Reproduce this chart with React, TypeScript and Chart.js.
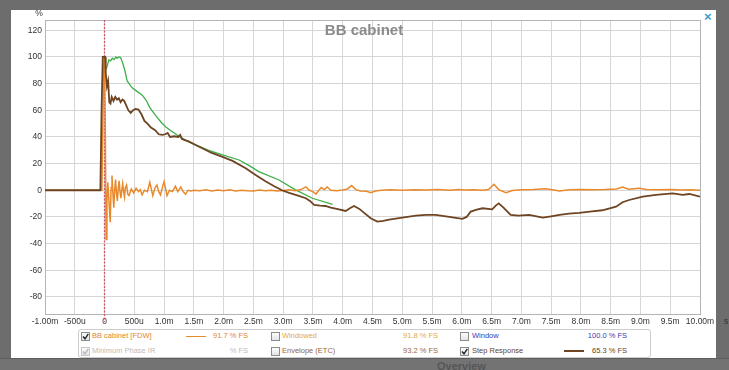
import React, { useEffect, useRef } from "react";
import { Chart, registerables } from "chart.js";

Chart.register(...registerables);

// ---------- DATA ----------
const chartTitle = "BB cabinet";

// FDW impulse response (orange), time in ms, value in %
const fdwT = [
  -1.0, -0.06, -0.045, -0.03, -0.015, 0.0, 0.012, 0.025, 0.04, 0.055, 0.07, 0.095, 0.11, 0.125, 0.14, 0.155,
  0.17, 0.185, 0.2, 0.215, 0.23, 0.245, 0.26, 0.275, 0.29, 0.305, 0.32, 0.335, 0.35, 0.37, 0.39, 0.41, 0.45,
  0.49, 0.53, 0.57, 0.6, 0.63, 0.67, 0.72, 0.76, 0.81, 0.85, 0.88, 0.91, 0.94, 0.97, 1.0, 1.05, 1.09, 1.14,
  1.19, 1.23, 1.28, 1.32, 1.36, 1.4, 1.45, 1.5, 1.6, 1.7, 1.8, 1.9, 2.0, 2.1, 2.2, 2.3, 2.4, 2.5, 2.6, 2.7,
  2.8, 2.9, 3.0, 3.1, 3.2, 3.3, 3.38, 3.44, 3.5, 3.55, 3.6, 3.64, 3.69, 3.74, 3.8, 3.9, 4.0, 4.08, 4.15,
  4.22, 4.3, 4.4, 4.47, 4.55, 4.65, 4.8, 5.0, 5.2, 5.4, 5.6, 5.8, 5.95, 6.05, 6.2, 6.35, 6.45, 6.54, 6.62,
  6.74, 6.85, 7.0, 7.2, 7.41, 7.52, 7.64, 7.8, 8.0, 8.2, 8.4, 8.6, 8.7, 8.8, 8.98, 9.1, 9.3, 9.5, 9.7,
  9.85, 10.0,
];
const fdwV = [
  0, 0, 0, 45, 92, 101, 50, -37, -8, 6, -5, -24, 2, 11, -2, -13,
  0, 8, -2, -8, 1, 7, -1, -6, 0, 5, -1, -5, 2, 4, -3, -4, 1,
  -2, 1.5, -1, 0.5, -3.5, 0, -1, 6, -4, 2, 4, -1, -3.5, 2, 6.5, -4, 0, -1,
  3, -1, 2.5, -1, -3, 0, -0.5, 0, -0.3, 0.4, -0.5, 0.2, -0.4, 0.3, -0.6, 0, -0.3, -0.5, 0.2, -0.4,
  0, -0.6, -0.2, 0.3, -0.4, 0.5, 2.5, 0, -1, -3, 0, 2, 0.5, 2.5, 0, -0.3, 0.2, 1, 3.5,
  0.5, -0.5, -0.8, -1.8, -0.5, 0, 0.3, 0.1, 0.4, 0.2, 0.5, 0, 0.6, 0.2, 0.4, 0.1, 0.5, 4.5, 0.5,
  -1.8, -0.2, 0.3, 0.5, 1.2, 0.4, -0.5, 0.3, 0.5, 0.4, 0.6, 1.0, 2.5, 0.8, 1.5, 0.5, 0.3, 0.5, 0.2,
  0.4, 0,
];

// Step response (dark brown)
const stepT = [
  -1.0, -0.07, -0.05, -0.03, 0.01, 0.02, 0.04, 0.06, 0.08, 0.1, 0.12, 0.15, 0.18, 0.21, 0.24, 0.27, 0.3,
  0.33, 0.36, 0.4, 0.44, 0.48, 0.52, 0.57, 0.62, 0.67, 0.72, 0.78, 0.85, 0.91, 0.97, 1.02, 1.06, 1.1, 1.17,
  1.24, 1.27, 1.3, 1.42, 1.53, 1.64, 1.8, 1.98, 2.15, 2.37, 2.55, 2.71, 2.85, 2.98, 3.1, 3.25, 3.38, 3.45,
  3.52, 3.62, 3.71, 3.8, 3.9, 4.05, 4.12, 4.19, 4.28, 4.36, 4.47, 4.58, 4.68, 4.78, 5.0, 5.23, 5.4, 5.56,
  5.79, 6.01, 6.08, 6.15, 6.25, 6.35, 6.51, 6.57, 6.62, 6.7, 6.82, 6.95, 7.13, 7.36, 7.5, 7.64, 7.8, 7.97,
  8.15, 8.36, 8.59, 8.7, 8.81, 9.04, 9.26, 9.54, 9.71, 9.82, 10.0,
];
const stepV = [
  0, 0, 60, 100, 100, 88, 78, 82, 66, 65, 70, 67, 70, 68, 69, 66, 68,
  67, 64, 60, 58, 60, 61, 60.5, 57, 52, 50, 47, 45, 42, 41.5, 42, 43, 40, 40.5,
  40, 41.5, 38.5, 36.5, 34, 31.5, 28, 25, 22, 16.5, 11, 6.5, 3, 0, -2, -4, -6, -8,
  -11, -11.5, -11.8, -13, -14, -15.5, -13.5, -11.8, -14, -17, -21, -23.5, -23, -22, -20.5, -19, -18.5, -18.5,
  -20, -21.5, -20, -16, -14.5, -13.5, -14.3, -11.5, -9.8, -13, -18.5, -19, -18.5, -20.5, -19.5, -18.5, -17.5, -17,
  -16, -15, -12.3, -9, -7.3, -4.8, -3.5, -2.3, -3.5, -2.8, -4.8,
];

// Minimum phase step (green)
const minT = [
  0.03, 0.05, 0.07, 0.1, 0.13, 0.16, 0.19, 0.21, 0.24, 0.27, 0.3, 0.34, 0.38, 0.46, 0.55, 0.63, 0.7, 0.76,
  0.86, 0.95, 1.03, 1.12, 1.25, 1.38, 1.53, 1.75, 1.98, 2.26, 2.43, 2.59, 2.93, 3.2, 3.49, 3.83,
];
const minV = [
  91, 94, 97.7, 97, 99, 98, 100, 99, 100, 99.5, 96, 90, 82, 77, 74, 71.5, 67.5, 62,
  56, 51, 47.5, 44.5, 40.5, 37, 34, 30, 26.5, 22.7, 18.5, 14, 7.7, 0.5, -6, -10.5,
];

const xTickValues = [-1, -0.5, 0, 0.5, 1, 1.5, 2, 2.5, 3, 3.5, 4, 4.5, 5, 5.5, 6, 6.5, 7, 7.5, 8, 8.5, 9, 9.5, 10];
const xTickLabels = [
  "-1.00m", "-500u", "0", "500u", "1.0m", "1.5m", "2.0m", "2.5m", "3.0m", "3.5m", "4.0m", "4.5m", "5.0m",
  "5.5m", "6.0m", "6.5m", "7.0m", "7.5m", "8.0m", "8.5m", "9.0m", "9.5m", "10.00m",
];
const xUnit = "s";
const yTickValues = [-80, -60, -40, -20, 0, 20, 40, 60, 80, 100, 120];
const yUnit = "%";

const legendNames = ["BB cabinet [FDW]", "Windowed", "Window", "Minimum Phase IR", "Envelope (ETC)", "Step Response"];
const legendValues = ["91.7 % FS", "91.8 % FS", "100.0 % FS", "% FS", "93.2 % FS", "65.3 % FS"];
const legendChecked = [true, false, false, true, false, true];
const legendDisabled = [false, false, false, true, false, false];
const legendLine = [true, false, false, false, false, true];

// ---------- STYLE ----------
const FONT = '"Liberation Sans", Arial, sans-serif';
const C_FDW = "#e8892c";
const C_STEP = "#6e4422";
const C_MIN = "#3daf4a";
const legendColors = ["#e0862c", "#e2aa3c", "#3a3ab4", "#bcbcbc", "#97683a", "#6a4626"];

const overlayPlugin = {
  id: "overlay",
  beforeDatasetsDraw(chart: any) {
    const { ctx, chartArea, scales } = chart;
    ctx.save();
    ctx.strokeStyle = "#b4b4b4";
    ctx.lineWidth = 1;
    ctx.strokeRect(chartArea.left + 0.5, chartArea.top + 0.5, chartArea.right - chartArea.left, chartArea.bottom - chartArea.top);
    const x0 = Math.round(scales.x.getPixelForValue(0)) - 0.5;
    ctx.strokeStyle = "#d2566a";
    ctx.lineWidth = 1.3;
    ctx.setLineDash([2, 1.5]);
    ctx.beginPath();
    ctx.moveTo(x0, chartArea.top);
    ctx.lineTo(x0, chartArea.bottom + 8);
    ctx.stroke();
    ctx.restore();
  },
  afterDraw(chart: any) {
    const { ctx, chartArea, scales } = chart;
    ctx.save();
    ctx.fillStyle = "#8a8a8a";
    ctx.font = `bold 15px ${FONT}`;
    ctx.textAlign = "center";
    ctx.textBaseline = "alphabetic";
    ctx.fillText(chartTitle, 364, 35);
    ctx.fillStyle = "#333";
    ctx.font = `8.5px ${FONT}`;
    ctx.textBaseline = "middle";
    ctx.fillText(yUnit, 39, 14);
    ctx.textAlign = "left";
    ctx.fillText(xUnit, scales.x.getPixelForValue(10) + 24, chartArea.bottom + 8);
    ctx.restore();
  },
};

function CheckBox({ left, top, checked, disabled }: { left: number; top: number; checked: boolean; disabled: boolean }) {
  const border = disabled ? "#c8c8c8" : "#8c8c8c";
  const mark = disabled ? "#b8b8b8" : "#222";
  return (
    <div
      style={{
        position: "absolute",
        left,
        top,
        width: 7,
        height: 7,
        border: `1px solid ${border}`,
        background: "linear-gradient(#fdfdfd, #e4e4e4)",
      }}
    >
      {checked && (
        <svg width="7" height="7" style={{ position: "absolute", left: 0, top: 0 }}>
          <path d="M1 3.5 L3 5.8 L6.3 0.8" stroke={mark} strokeWidth="1.4" fill="none" />
        </svg>
      )}
    </div>
  );
}

export default function App() {
  const canvasRef = useRef<HTMLCanvasElement | null>(null);

  useEffect(() => {
    if (!canvasRef.current) return;
    const tickFont = { family: FONT, size: 8.5 };
    const chart = new Chart(canvasRef.current, {
      type: "line",
      data: {
        datasets: [
          {
            label: "Step Response",
            data: stepT.map((t, i) => ({ x: t, y: stepV[i] })),
            borderColor: C_STEP,
            borderWidth: 1.8,
            pointRadius: 0,
            tension: 0,
            order: 0,
          },
          {
            label: "BB cabinet [FDW]",
            data: fdwT.map((t, i) => ({ x: t, y: fdwV[i] })),
            borderColor: C_FDW,
            borderWidth: 1.5,
            pointRadius: 0,
            tension: 0,
            order: 1,
          },
          {
            label: "Minimum phase step",
            data: minT.map((t, i) => ({ x: t, y: minV[i] })),
            borderColor: C_MIN,
            borderWidth: 1.3,
            pointRadius: 0,
            tension: 0,
            order: 2,
          },
        ],
      },
      options: {
        responsive: false,
        animation: false,
        events: [],
        layout: { padding: { top: 20, right: 29, left: 0, bottom: 0 } },
        plugins: { legend: { display: false }, tooltip: { enabled: false }, title: { display: false } },
        scales: {
          x: {
            type: "linear",
            min: -1,
            max: 10,
            afterBuildTicks: (axis: any) => {
              axis.ticks = xTickValues.map((v) => ({ value: v }));
            },
            afterFit: (axis: any) => {
              axis.height = 56;
            },
            border: { display: false },
            grid: { color: "#d6d6d6", lineWidth: 1, drawTicks: false },
            ticks: {
              padding: 3,
              color: "#333",
              font: tickFont,
              maxRotation: 0,
              autoSkip: false,
              callback: (_v: any, i: number) => xTickLabels[i],
            },
          },
          y: {
            type: "linear",
            min: -92.8,
            max: 127.7,
            afterBuildTicks: (axis: any) => {
              axis.ticks = yTickValues.map((v) => ({ value: v }));
            },
            afterFit: (axis: any) => {
              axis.width = 45;
            },
            border: { display: false },
            grid: { color: "#d6d6d6", lineWidth: 1, drawTicks: false },
            ticks: {
              padding: 3,
              color: "#333",
              font: tickFont,
              autoSkip: false,
              callback: (_v: any, i: number) => String(yTickValues[i]),
            },
          },
        },
      },
      plugins: [overlayPlugin],
    } as any);
    return () => chart.destroy();
  }, []);

  const colX = [81, 271, 460];
  const nameX = [92, 282, 472];
  const valRight = [248, 438, 627];
  const rowTop = [331, 345.5];
  const textStyle = (color: string): React.CSSProperties => ({
    position: "absolute",
    font: `7.5px ${FONT}`,
    lineHeight: "10px",
    whiteSpace: "nowrap",
    color,
  });

  return (
    <div style={{ position: "fixed", left: 0, top: 0, width: 729, height: 370, overflow: "hidden", background: "#6d6d6d" }}>
      <div style={{ position: "absolute", left: 0, top: 358, width: 729, height: 12, background: "#737373", borderTop: "1px solid #5e5e5e" }} />
      <div style={{ position: "absolute", left: 437, top: 360, font: `bold 11px ${FONT}`, color: "#565656" }}>Overview</div>
      <div style={{ position: "absolute", left: 11, top: 10, width: 705, height: 348, background: "#ffffff" }} />
      <div style={{ position: "absolute", left: 45, top: 20, width: 655, height: 294, background: "#ffffff" }} />
      <div
        style={{
          position: "absolute",
          left: 78,
          top: 329,
          width: 571,
          height: 27,
          border: "1px solid #cccccc",
          borderRadius: 3,
          background: "#fff",
        }}
      />
      {legendNames.map((name, i) => {
        const col = i % 3;
        const row = Math.floor(i / 3);
        const top = rowTop[row];
        return (
          <React.Fragment key={name}>
            <CheckBox left={colX[col]} top={top + 1} checked={legendChecked[i]} disabled={legendDisabled[i]} />
            <span style={{ ...textStyle(legendColors[i]), left: nameX[col], top }}>{name}</span>
            {legendLine[i] && (
              <div
                style={{
                  position: "absolute",
                  left: col === 0 ? 186 : 564,
                  top: top + 4.5,
                  width: 20,
                  height: 1.5,
                  background: i === 0 ? C_FDW : C_STEP,
                }}
              />
            )}
            <span style={{ ...textStyle(legendColors[i]), right: 729 - valRight[col], top }}>{legendValues[i]}</span>
          </React.Fragment>
        );
      })}
      <div style={{ position: "absolute", left: 704, top: 9, font: `bold 13px ${FONT}`, color: "#3a9ccc" }}>×</div>
      <canvas
        ref={canvasRef}
        width={729}
        height={370}
        style={{ position: "absolute", left: 0, top: 0, width: 729, height: 370, pointerEvents: "none" }}
      />
    </div>
  );
}
